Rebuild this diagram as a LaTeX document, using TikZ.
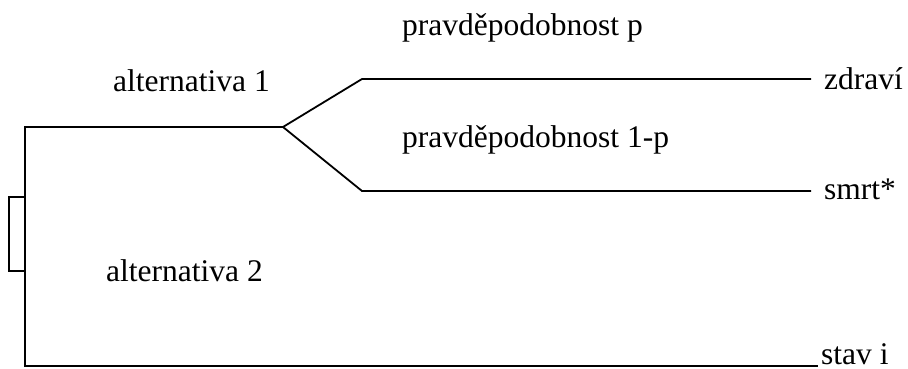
\documentclass[tikz,border=0pt]{standalone}
\usepackage{fontspec}
\setmainfont{Liberation Serif}
\begin{document}
\begin{tikzpicture}[x=1pt,y=1pt,
  lbl/.style={anchor=base west,inner sep=0pt,font=\fontsize{31.5}{33}\selectfont},
  edge/.style={line width=1.8pt}]
\useasboundingbox (0,0) rectangle (908,-369);
% coordinates
\coordinate (top) at (25,-127);
\coordinate (bot) at (25,-366);
\coordinate (fork) at (283,-127);
\coordinate (up) at (362,-79);
\coordinate (upend) at (811,-79);
\coordinate (low) at (362,-191);
\coordinate (lowend) at (811,-191);
\coordinate (stavend) at (818,-366);
% labels
\node[lbl] (pp) at (402,-36) {pravděpodobnost p};
\node[lbl] (a1) at (113,-92) {alternativa 1};
\node[lbl] (p1) at (402,-147) {pravděpodobnost 1-p};
\node[lbl] (a2) at (106,-281) {alternativa 2};
\node[lbl] (zd) at (824,-89) {zdraví};
\node[lbl] (sm) at (824,-199) {smrt*};
\node[lbl] (st) at (821,-364) {stav i};
% lines
\draw[edge] (fork) -- (top) -- (bot) -- (stavend);
\draw[edge] (upend) -- (up) -- (fork) -- (low) -- (lowend);
\draw[edge] (25,-197) -- (9,-197) -- (9,-271) -- (25,-271);
\end{tikzpicture}
\end{document}
